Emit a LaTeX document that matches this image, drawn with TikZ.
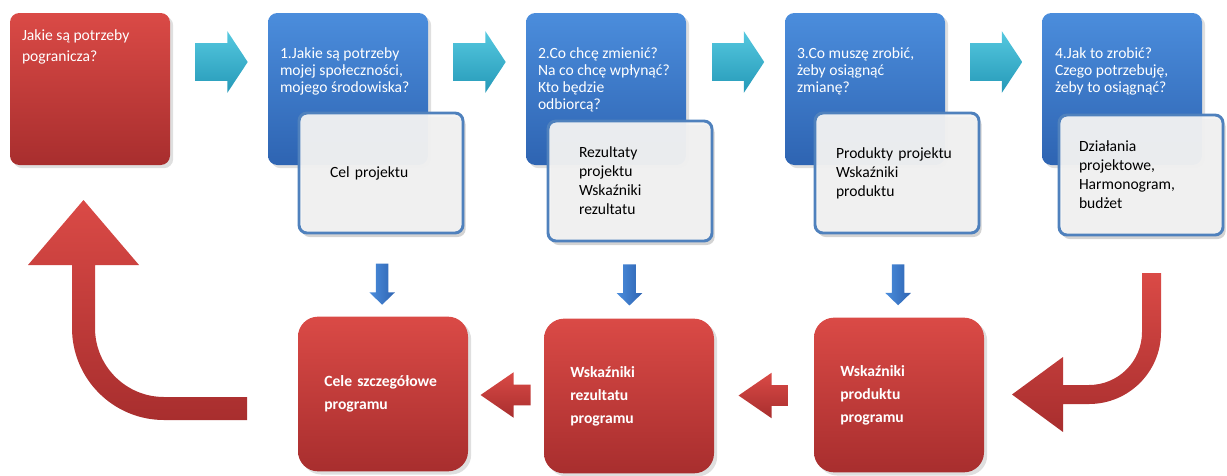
\documentclass[tikz,border=0pt]{standalone}
\usepackage{fontspec}
\setmainfont{Carlito}
\usetikzlibrary{shapes.arrows,shadows,calc}
\definecolor{redtop}{HTML}{DA4A46}
\definecolor{redbot}{HTML}{A82E2E}
\definecolor{bluetop}{HTML}{4B8DDC}
\definecolor{bluebot}{HTML}{2E64B2}
\definecolor{cyantop}{HTML}{55C8DF}
\definecolor{cyanbot}{HTML}{2599B8}
\definecolor{noteline}{HTML}{4F81BD}
\definecolor{notefill}{HTML}{F3F3F3}
\newcommand\qfont{\fontsize{11.7}{12.75}\selectfont}
\newcommand\topfont{\fontsize{11.7}{15.5}\selectfont}
\newcommand\notefont{\fontsize{11.7}{14.25}\selectfont}
\newcommand\goalfont{\bfseries\fontsize{11.7}{17.25}\selectfont}

\begin{document}
\begin{tikzpicture}[x=0.75pt,y=-0.75pt,
    every node/.style={inner sep=0pt},
    redbox/.style={rounded corners=7pt,top color=redtop,bottom color=redbot,
      minimum width=120pt,minimum height=114pt,drop shadow={opacity=0.25}},
    bluebox/.style={rounded corners=7pt,top color=bluetop,bottom color=bluebot,
      minimum width=120pt,minimum height=114pt,drop shadow={opacity=0.25}},
    notebox/.style={rounded corners=6pt,draw=noteline,line width=2.2pt,fill=notefill,
      fill opacity=0.95,text opacity=1,minimum width=123pt,minimum height=90pt,
      align=left,font=\notefont,drop shadow={opacity=0.35,shadow xshift=2pt,shadow yshift=-3pt}},
    goalbox/.style={rounded corners=15pt,top color=redtop,bottom color=redbot,
      minimum width=127.5pt,minimum height=116pt,text width=88pt,align=left,
      text=white,font=\goalfont,drop shadow={opacity=0.25}},
    qtext/.style={anchor=north west,align=left,text=white,font=\qfont},
    nextarrow/.style={single arrow,top color=cyantop,bottom color=cyanbot,
      inner sep=13.9pt,minimum height=39pt,single arrow head extend=9pt,
      single arrow tip angle=113},
    downarrow/.style={single arrow,shape border rotate=270,left color=bluetop,
      right color=bluebot,inner sep=4.5pt,minimum height=30.75pt,
      single arrow head extend=4.9pt,single arrow tip angle=92},
    backarrow/.style={single arrow,shape border rotate=180,top color=redtop,
      bottom color=redbot,inner sep=7.5pt,minimum height=37.5pt,
      single arrow head extend=9.4pt,single arrow tip angle=69},
    bigarrow/.style={top color=redtop,bottom color=redbot}
  ]
  \useasboundingbox (0,0) rectangle (1227,475);

  % top row
  \node[redbox] (r0) at (90,89) {};
  \node[bluebox] (b1) at (348,89) {};
  \node[bluebox] (b2) at (606,89) {};
  \node[bluebox] (b3) at (865,89) {};
  \node[bluebox] (b4) at (1122,89) {};

  \node[qtext,font=\topfont] (t0) at ([shift={(12,17)}]r0.north west) {Jakie są potrzeby\\pogranicza?};
  \node[qtext] (t1) at ([shift={(12,35)}]b1.north west) {1.Jakie są potrzeby\\mojej społeczności,\\mojego środowiska?};
  \node[qtext] (t2) at ([shift={(12,35)}]b2.north west) {2.Co chcę zmienić?\\Na co chcę wpłynąć?\\Kto będzie\\odbiorcą?};
  \node[qtext] (t3) at ([shift={(12,35)}]b3.north west) {3.Co muszę zrobić,\\żeby osiągnąć\\zmianę?};
  \node[qtext] (t4) at ([shift={(13,35)}]b4.north west) {4.Jak to zrobić?\\Czego potrzebuję,\\żeby to osiągnąć?};

  \node[nextarrow] (c1) at ($(r0.east)!0.5!(b1.west)+(-3.5,-27)$) {};
  \node[nextarrow] (c2) at ($(b1.east)!0.5!(b2.west)+(-3.5,-27)$) {};
  \node[nextarrow] (c3) at ($(b2.east)!0.5!(b3.west)+(-3.5,-27)$) {};
  \node[nextarrow] (c4) at ($(b3.east)!0.5!(b4.west)+(-3.5,-27)$) {};

  \node[notebox,text width=76.5pt] (n1) at (381,173) {Cel projektu};
  \node[notebox,text width=76.5pt] (n2) at (630,181) {Rezultaty\\projektu\\Wskaźniki\\rezultatu};
  \node[notebox,text width=91.5pt] (n3) at (897,173) {Produkty projektu\\Wskaźniki\\produktu};
  \node[notebox,text width=93pt] (n4) at (1141,175) {Działania\\projektowe,\\Harmonogram,\\budżet};

  % bottom row
  \node[goalbox] (g1) at (383,394) {Cele szczegółowe\\programu};
  \node[goalbox] (g2) at (629,396) {Wskaźniki\\rezultatu\\programu};
  \node[goalbox] (g3) at (899,395) {Wskaźniki\\produktu\\programu};

  \node[downarrow] (d1) at ($(n1.south)!0.57!(g1.north)$) {};
  \node[downarrow] (d2) at ($(n2.south)!0.52!(g2.north)$) {};
  \node[downarrow] (d3) at ($(n3.south)!0.57!(g3.north)$) {};

  \node[backarrow] (l1) at ($(g2.west)!0.5!(g1.east)+(7,0)$) {};
  \node[backarrow] (l2) at ($(g3.west)!0.5!(g2.east)+(7,0)$) {};

  % big turning arrows
  \shade[bigarrow] (1142,273) -- (1161,273) -- (1161,332)
    .. controls (1161,371.8) and (1128.8,404) .. (1089,404) -- (1063,404)
    -- (1063,432) -- (1012,394.5) -- (1063,357) -- (1063,385) -- (1089,385)
    .. controls (1118.3,385) and (1142,361.3) .. (1142,332) -- cycle;
  \shade[bigarrow] (247,397) -- (164,397)
    .. controls (125.9,397) and (95,366.1) .. (95,328) -- (95,265)
    -- (139,265) -- (83.5,200) -- (28,265) -- (72,265) -- (72,328)
    .. controls (72,378.8) and (113.2,420) .. (164,420) -- (247,420) -- cycle;
\end{tikzpicture}
\end{document}
